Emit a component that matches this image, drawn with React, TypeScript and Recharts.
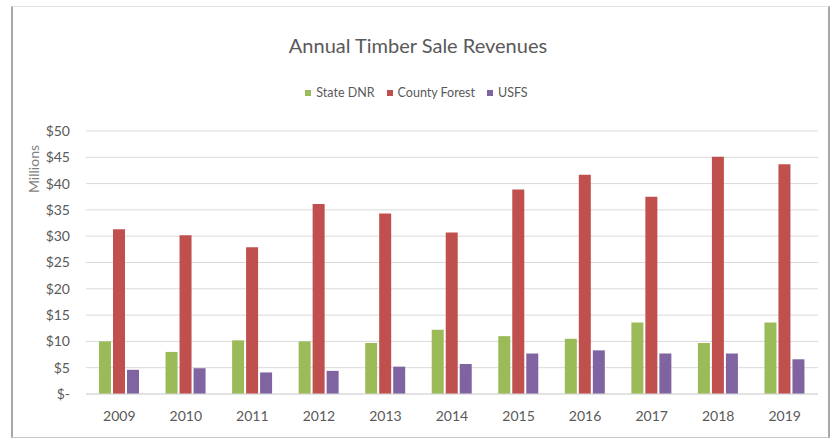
import React from 'react';
import { BarChart, Bar, XAxis, YAxis, CartesianGrid } from 'recharts';

const years = ['2009', '2010', '2011', '2012', '2013', '2014', '2015', '2016', '2017', '2018', '2019'];
const stateDnr = [10.0, 8.0, 10.2, 10.0, 9.7, 12.2, 11.0, 10.5, 13.6, 9.7, 13.6];
const countyForest = [31.3, 30.2, 27.9, 36.1, 34.3, 30.7, 38.9, 41.7, 37.5, 45.1, 43.7];
const usfs = [4.6, 4.9, 4.1, 4.4, 5.2, 5.7, 7.7, 8.3, 7.7, 7.7, 6.6];
const yTicks = [0, 5, 10, 15, 20, 25, 30, 35, 40, 45, 50];

const seriesNames = ['State DNR', 'County Forest', 'USFS'];
const seriesKeys = ['stateDnr', 'countyForest', 'usfs'];
const seriesColors = ['#9BBB59', '#C0504D', '#8064A2'];

const data = years.map((year, i) => ({
  year,
  stateDnr: stateDnr[i],
  countyForest: countyForest[i],
  usfs: usfs[i],
}));

const FONT = 'Lato, "Open Sans", sans-serif';
const TEXT = '#595959';

const fmt = (v: number) => (v === 0 ? '$-' : `$${v}`);

export default function App() {
  return (
    <div style={{ position: 'absolute', left: 0, top: 0, width: 833, height: 439, background: '#fff', fontFamily: FONT, overflow: 'hidden' }}>
      <div
        style={{
          position: 'absolute',
          left: 11,
          top: 6,
          width: 815,
          height: 430,
          borderLeft: '2px solid #A8A8A8',
          borderRight: '2px solid #A8A8A8',
          borderTop: '1px solid #E2E2E2',
          borderBottom: '1px solid #C8C8C8',
          boxSizing: 'content-box',
        }}
      />
      <div style={{ position: 'absolute', left: 0, width: 836, top: 33, textAlign: 'center', fontSize: 20, color: TEXT }}>
        Annual Timber Sale Revenues
      </div>
      <div style={{ position: 'absolute', left: 0, width: 833, top: 85, display: 'flex', justifyContent: 'center', gap: 12, fontSize: 12.5, color: TEXT }}>
        {seriesNames.map((name, i) => (
          <div key={name} style={{ display: 'flex', alignItems: 'center', gap: 5 }}>
            <span style={{ display: 'inline-block', width: 6, height: 6, background: seriesColors[i] }} />
            <span>{name}</span>
          </div>
        ))}
      </div>
      <div
        style={{
          position: 'absolute',
          left: 33,
          top: 169,
          transform: 'translate(-50%, -50%) rotate(-90deg)',
          fontSize: 14,
          color: '#7F7F7F',
          whiteSpace: 'nowrap',
        }}
      >
        Millions
      </div>
      <div style={{ position: 'absolute', left: 0, top: 0 }}>
        <BarChart width={833} height={439} data={data} margin={{ top: 131, right: 15, bottom: 15, left: 10 }} barGap={2} barSize={12}>
          <CartesianGrid vertical={false} stroke="#D9D9D9" />
          <XAxis
            dataKey="year"
            height={30}
            tickLine={false}
            tickSize={0}
            tickMargin={17}
            axisLine={{ stroke: '#D9D9D9' }}
            tick={{ fill: TEXT, fontSize: 14, fontFamily: FONT }}
          />
          <YAxis
            width={76}
            domain={[0, 50]}
            ticks={yTicks}
            interval={0}
            tickFormatter={fmt}
            tickLine={false}
            axisLine={false}
            tickSize={0}
            tickMargin={16}
            tick={{ fill: TEXT, fontSize: 14, fontFamily: FONT }}
          />
          {seriesKeys.map((k, i) => (
            <Bar key={k} dataKey={k} name={seriesNames[i]} fill={seriesColors[i]} isAnimationActive={false} />
          ))}
        </BarChart>
      </div>
    </div>
  );
}
